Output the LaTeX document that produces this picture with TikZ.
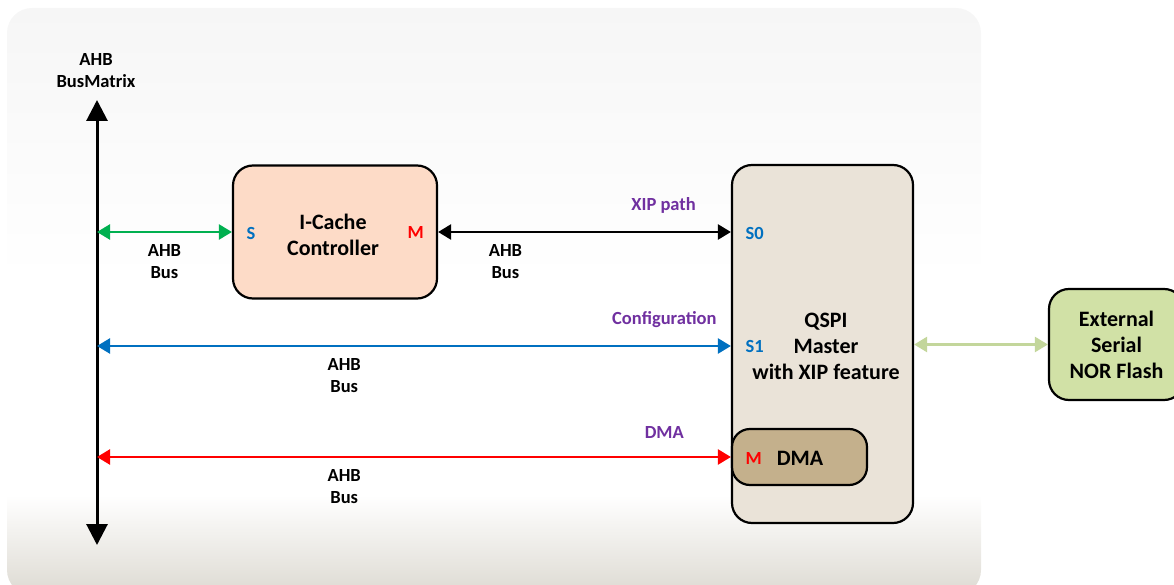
\documentclass[tikz,border=0pt]{standalone}
\usepackage{fontspec}
\setmainfont{Carlito}
\usetikzlibrary{arrows.meta,positioning}
\definecolor{bgtop}{RGB}{246,246,246}
\definecolor{bgbot}{RGB}{221,218,210}
\definecolor{cachefill}{RGB}{253,219,199}
\definecolor{qspifill}{RGB}{234,227,216}
\definecolor{dmafill}{RGB}{196,176,140}
\definecolor{flashfill}{RGB}{209,225,166}
\definecolor{flashbus}{RGB}{195,214,155}
\definecolor{ahbgreen}{RGB}{0,176,80}
\definecolor{ahbblue}{RGB}{0,112,192}
\definecolor{txtpurple}{RGB}{112,48,160}
\pgfdeclareverticalshading{bgshade}{100bp}{color(0bp)=(bgbot); color(25bp)=(bgbot); color(33.5bp)=(white); color(52bp)=(white); color(75bp)=(bgtop); color(100bp)=(bgtop)}

\begin{document}
\begin{tikzpicture}[x=1pt,y=-1pt,
		blk/.style={draw,line width=2.2pt,rounded corners=20pt,align=center,font=\fontsize{22}{26}\selectfont\bfseries},
		lbl/.style={align=center,font=\fontsize{18.5}{22}\selectfont\bfseries},
		path lbl/.style={font=\fontsize{18.5}{22}\selectfont\bfseries,text=txtpurple},
		port/.style={anchor=west,font=\fontsize{18.5}{22}\selectfont\bfseries},
		bus/.style={<->,>={Triangle[length=13pt,width=15pt]},line width=2.5pt}]
	\useasboundingbox (0,0) rectangle (1174,585);
	\shade[shading=bgshade,rounded corners=25pt] (7,8) rectangle (981,595);

	\node[lbl] (bmx) at (96,71) {AHB\\BusMatrix};
	\coordinate (bmtop) at (97,100);
	\coordinate (bmbot) at (97,545);
	\draw[<->,>={Triangle[length=21pt,width=21pt]},line width=3pt] (bmbot) -- (bmtop);

	\node[blk,fill=cachefill,minimum width=204pt,minimum height=133pt] (icache) at (335,232) {};
	\node[align=center,font=\fontsize{22}{26}\selectfont\bfseries] (icachetxt) at (333,235) {I-Cache\\Controller};
	\node[port,text=ahbblue] (is) at (243,233) {S};
	\node[port,text=red] (im) at (404,233) {M};

	\node[blk,fill=qspifill,minimum width=181pt,minimum height=358pt] (qspi) at (822.5,344) {};
	\node[align=center,font=\fontsize{22}{26}\selectfont\bfseries] (qspitxt) at (826,346) {QSPI\\Master\\with XIP feature};
	\node[port,text=ahbblue] (s0) at (742,233) {S0};
	\node[port,text=ahbblue] (s1) at (742,346) {S1};

	\node[blk,fill=dmafill,minimum width=135pt,minimum height=56pt,rounded corners=18pt] (dma) at (799.5,457) {};
	\node[port,text=red] (dm) at (742,458) {M};
	\node[port,font=\fontsize{22}{26}\selectfont\bfseries] (dmtxt) [right=8pt of dm] {DMA};

	\node[blk,fill=flashfill,minimum width=135pt,minimum height=111pt] (flash) at (1116.5,344.5) {External\\Serial\\NOR Flash};

	\draw[bus,ahbgreen] (bmtop |- icache.west) -- (icache.west)
		node[lbl,text=black,midway,below=8pt] {AHB\\Bus};
	\draw[bus,black] (icache.east) -- (icache.east -| qspi.west)
		node[lbl,pos=0.23,below=8pt] {AHB\\Bus}
		node[path lbl,pos=0.77,above=14pt] {XIP path};
	\draw[bus,ahbblue] (bmtop |- s1.west) -- (qspi.west |- s1.west)
		node[lbl,text=black,pos=0.39,below=8pt] {AHB\\Bus}
		node[path lbl,pos=0.895,above=14pt] {Configuration};
	\draw[bus,red] (bmtop |- dma.west) -- (dma.west)
		node[lbl,text=black,pos=0.39,below=8pt] {AHB\\Bus}
		node[path lbl,pos=0.895,above=14pt] {DMA};
	\draw[bus,flashbus] (qspi.east |- flash.west) -- (flash.west);
\end{tikzpicture}
\end{document}
